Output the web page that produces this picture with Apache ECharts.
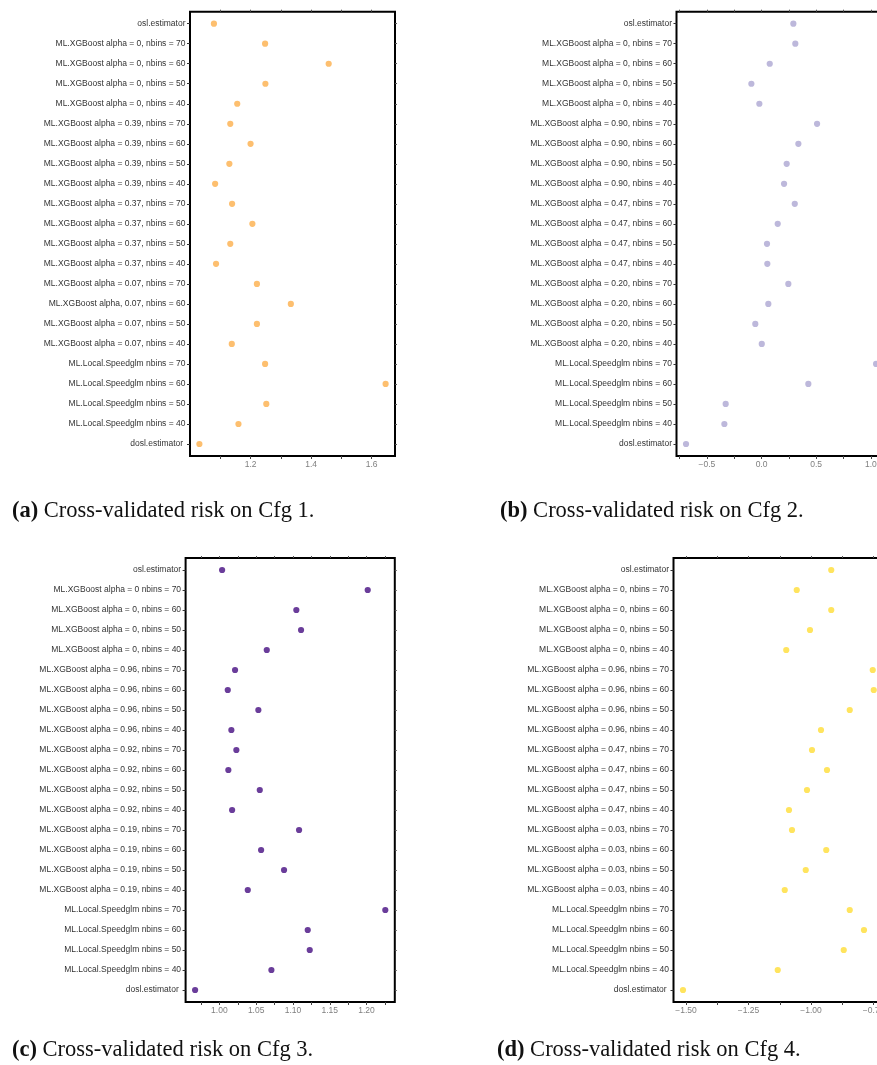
<!DOCTYPE html>
<html>
<head>
<meta charset="utf-8">
<script src="https://cdn.jsdelivr.net/npm/echarts@6/dist/echarts.min.js"></script>
<style>
html,body{margin:0;padding:0;overflow:hidden;background:#fff;width:877px;height:1065px;}
#chart{width:900px;height:1065px;}
</style>
</head>
<body>
<div id="chart"></div>
<script>
// ---------------- DATA ----------------
const catsA = [
  'osl.estimator',
  'ML.XGBoost alpha = 0, nbins = 70','ML.XGBoost alpha = 0, nbins = 60','ML.XGBoost alpha = 0, nbins = 50','ML.XGBoost alpha = 0, nbins = 40',
  'ML.XGBoost alpha = 0.39, nbins = 70','ML.XGBoost alpha = 0.39, nbins = 60','ML.XGBoost alpha = 0.39, nbins = 50','ML.XGBoost alpha = 0.39, nbins = 40',
  'ML.XGBoost alpha = 0.37, nbins = 70','ML.XGBoost alpha = 0.37, nbins = 60','ML.XGBoost alpha = 0.37, nbins = 50','ML.XGBoost alpha = 0.37, nbins = 40',
  'ML.XGBoost alpha = 0.07, nbins = 70','ML.XGBoost alpha, 0.07, nbins = 60','ML.XGBoost alpha = 0.07, nbins = 50','ML.XGBoost alpha = 0.07, nbins = 40',
  'ML.Local.Speedglm nbins = 70','ML.Local.Speedglm nbins = 60','ML.Local.Speedglm nbins = 50','ML.Local.Speedglm nbins = 40',
  'dosl.estimator '
];
const catsB = [
  'osl.estimator',
  'ML.XGBoost alpha = 0, nbins = 70','ML.XGBoost alpha = 0, nbins = 60','ML.XGBoost alpha = 0, nbins = 50','ML.XGBoost alpha = 0, nbins = 40',
  'ML.XGBoost alpha = 0.90, nbins = 70','ML.XGBoost alpha = 0.90, nbins = 60','ML.XGBoost alpha = 0.90, nbins = 50','ML.XGBoost alpha = 0.90, nbins = 40',
  'ML.XGBoost alpha = 0.47, nbins = 70','ML.XGBoost alpha = 0.47, nbins = 60','ML.XGBoost alpha = 0.47, nbins = 50','ML.XGBoost alpha = 0.47, nbins = 40',
  'ML.XGBoost alpha = 0.20, nbins = 70','ML.XGBoost alpha = 0.20, nbins = 60','ML.XGBoost alpha = 0.20, nbins = 50','ML.XGBoost alpha = 0.20, nbins = 40',
  'ML.Local.Speedglm nbins = 70','ML.Local.Speedglm nbins = 60','ML.Local.Speedglm nbins = 50','ML.Local.Speedglm nbins = 40',
  'dosl.estimator'
];
const catsC = [
  'osl.estimator',
  'ML.XGBoost alpha = 0 nbins = 70','ML.XGBoost alpha = 0, nbins = 60','ML.XGBoost alpha = 0, nbins = 50','ML.XGBoost alpha = 0, nbins = 40',
  'ML.XGBoost alpha = 0.96, nbins = 70','ML.XGBoost alpha = 0.96, nbins = 60','ML.XGBoost alpha = 0.96, nbins = 50','ML.XGBoost alpha = 0.96, nbins = 40',
  'ML.XGBoost alpha = 0.92, nbins = 70','ML.XGBoost alpha = 0.92, nbins = 60','ML.XGBoost alpha = 0.92, nbins = 50','ML.XGBoost alpha = 0.92, nbins = 40',
  'ML.XGBoost alpha = 0.19, nbins = 70','ML.XGBoost alpha = 0.19, nbins = 60','ML.XGBoost alpha = 0.19, nbins = 50','ML.XGBoost alpha = 0.19, nbins = 40',
  'ML.Local.Speedglm nbins = 70','ML.Local.Speedglm nbins = 60','ML.Local.Speedglm nbins = 50','ML.Local.Speedglm nbins = 40',
  'dosl.estimator '
];
const catsD = [
  'osl.estimator',
  'ML.XGBoost alpha = 0, nbins = 70','ML.XGBoost alpha = 0, nbins = 60','ML.XGBoost alpha = 0, nbins = 50','ML.XGBoost alpha = 0, nbins = 40',
  'ML.XGBoost alpha = 0.96, nbins = 70','ML.XGBoost alpha = 0.96, nbins = 60','ML.XGBoost alpha = 0.96, nbins = 50','ML.XGBoost alpha = 0.96, nbins = 40',
  'ML.XGBoost alpha = 0.47, nbins = 70','ML.XGBoost alpha = 0.47, nbins = 60','ML.XGBoost alpha = 0.47, nbins = 50','ML.XGBoost alpha = 0.47, nbins = 40',
  'ML.XGBoost alpha = 0.03, nbins = 70','ML.XGBoost alpha = 0.03, nbins = 60','ML.XGBoost alpha = 0.03, nbins = 50','ML.XGBoost alpha = 0.03, nbins = 40',
  'ML.Local.Speedglm nbins = 70','ML.Local.Speedglm nbins = 60','ML.Local.Speedglm nbins = 50','ML.Local.Speedglm nbins = 40',
  'dosl.estimator '
];

const riskA = [1.079, 1.248, 1.458, 1.249, 1.156, 1.133, 1.200, 1.130, 1.083, 1.139, 1.206, 1.133, 1.086, 1.221, 1.333, 1.221, 1.138, 1.248, 1.646, 1.252, 1.160, 1.031];
const riskB = [0.291, 0.309, 0.075, -0.093, -0.020, 0.508, 0.337, 0.230, 0.206, 0.304, 0.148, 0.050, 0.053, 0.245, 0.062, -0.057, 0.002, 1.048, 0.428, -0.328, -0.340, -0.691];
const riskC = [1.0037, 1.2016, 1.1046, 1.111, 1.0644, 1.0213, 1.0114, 1.053, 1.0163, 1.0231, 1.0122, 1.0549, 1.0173, 1.1083, 1.0567, 1.0879, 1.0386, 1.2255, 1.1201, 1.1228, 1.0707, 0.967];
const riskD = [-0.919, -1.057, -0.919, -1.004, -1.099, -0.753, -0.749, -0.845, -0.960, -0.996, -0.936, -1.016, -1.088, -1.076, -0.939, -1.021, -1.105, -0.845, -0.788, -0.869, -1.133, -1.512];

const ticksA = [1.1, 1.2, 1.3, 1.4, 1.5, 1.6];
const labelsA = [1.2, 1.4, 1.6];
const ticksB = [-0.75, -0.5, -0.25, 0, 0.25, 0.5, 0.75, 1.0];
const labelsB = [-0.5, 0, 0.5, 1.0];
const ticksC = [0.975, 1.0, 1.025, 1.05, 1.075, 1.1, 1.125, 1.15, 1.175, 1.2, 1.225];
const labelsC = [1.0, 1.05, 1.1, 1.15, 1.2];
const ticksD = [-1.5, -1.375, -1.25, -1.125, -1.0, -0.875, -0.75];
const labelsD = [-1.5, -1.25, -1.0, -0.75];

const captions = [
  ['(a)', 'Cross-validated risk on Cfg 1.'],
  ['(b)', 'Cross-validated risk on Cfg 2.'],
  ['(c)', 'Cross-validated risk on Cfg 3.'],
  ['(d)', 'Cross-validated risk on Cfg 4.']
];

// ---------------- LAYOUT / STYLE ----------------
const panels = [
  {cats: catsA, vals: riskA, ticks: ticksA, labels: labelsA, dec: 1, min: 1.0, max: 1.677, color: '#FDBF6F',
   grid: {left: 190, top: 11.7, width: 205, height: 444.3}, cap: {left: 12, top: 499.5}},
  {cats: catsB, vals: riskB, ticks: ticksB, labels: labelsB, dec: 1, min: -0.778, max: 1.135, color: '#BDB8DB',
   grid: {left: 676.5, top: 11.7, width: 209.1, height: 444.3}, cap: {left: 500, top: 499.5}},
  {cats: catsC, vals: riskC, ticks: ticksC, labels: labelsC, dec: 2, min: 0.9541, max: 1.2384, color: '#6A3D9A',
   grid: {left: 185.6, top: 558, width: 209.2, height: 444}, cap: {left: 12, top: 1038.5}},
  {cats: catsD, vals: riskD, ticks: ticksD, labels: labelsD, dec: 2, min: -1.55, max: -0.711, color: '#FFE45E',
   grid: {left: 673.5, top: 558, width: 209.75, height: 444}, cap: {left: 497, top: 1038.5}}
];

const sansFont = '"Liberation Sans", Arial, Helvetica, sans-serif';
const serifFont = '"Liberation Serif", "Times New Roman", serif';

const option = {
  animation: false,
  backgroundColor: '#fff',
  title: [], grid: [], xAxis: [], yAxis: [], series: []
};

panels.forEach((p, i) => {
  const idx = p.cats.map((_, k) => k);
  option.grid.push(Object.assign({show: true, borderColor: '#000', borderWidth: 2, backgroundColor: 'transparent', containLabel: false}, p.grid));
  const fmt = v => Number(v).toFixed(p.dec).replace('-', '\u2212');
  // bottom x
  option.xAxis.push({
    type: 'value', gridIndex: i, min: p.min, max: p.max, position: 'bottom',
    axisLine: {show: false, onZero: false}, splitLine: {show: false},
    axisTick: {show: true, length: 3, lineStyle: {color: '#444', width: 1}, customValues: p.ticks},
    axisLabel: {show: true, customValues: p.labels, formatter: fmt, color: '#7f7f7f',
      fontSize: 8.5, fontFamily: sansFont, margin: 4}
  });
  // top x (ticks only)
  option.xAxis.push({
    type: 'value', gridIndex: i, min: p.min, max: p.max, position: 'top',
    axisLine: {show: false, onZero: false}, splitLine: {show: false},
    axisTick: {show: true, length: 2, lineStyle: {color: '#555', width: 1}, customValues: p.ticks},
    axisLabel: {show: false, customValues: p.labels}
  });
  // left y
  option.yAxis.push({
    type: 'value', gridIndex: i, min: -0.6, max: p.cats.length - 0.4, inverse: true, position: 'left',
    axisLine: {show: false, onZero: false}, splitLine: {show: false},
    axisTick: {show: true, length: 3, lineStyle: {color: '#333', width: 1}, customValues: idx},
    axisLabel: {show: true, customValues: idx, formatter: v => p.cats[Math.round(v)], color: '#333',
      fontSize: 8.5, fontFamily: sansFont, margin: 4.5}
  });
  // right y (ticks only)
  option.yAxis.push({
    type: 'value', gridIndex: i, min: -0.6, max: p.cats.length - 0.4, inverse: true, position: 'right',
    axisLine: {show: false, onZero: false}, splitLine: {show: false},
    axisTick: {show: true, length: 2, lineStyle: {color: '#555', width: 1}, customValues: idx},
    axisLabel: {show: false, customValues: idx}
  });
  option.series.push({
    type: 'scatter', xAxisIndex: 2 * i, yAxisIndex: 2 * i,
    symbol: 'circle', symbolSize: 6.2,
    itemStyle: {color: p.color, opacity: 1},
    data: p.vals.map((v, k) => [v, k]),
    z: 5
  });
  option.title.push({
    left: p.cap.left, top: p.cap.top, padding: 0,
    text: '{b|' + captions[i][0] + '} ' + captions[i][1],
    textStyle: {
      fontFamily: serifFont, fontSize: 22.5, fontWeight: 'normal', color: '#111',
      rich: {b: {fontFamily: serifFont, fontSize: 22.5, fontWeight: 'bold', color: '#111'}}
    }
  });
});

const chart = echarts.init(document.getElementById('chart'), null, {renderer: 'canvas'});
chart.setOption(option);
</script>
</body>
</html>
